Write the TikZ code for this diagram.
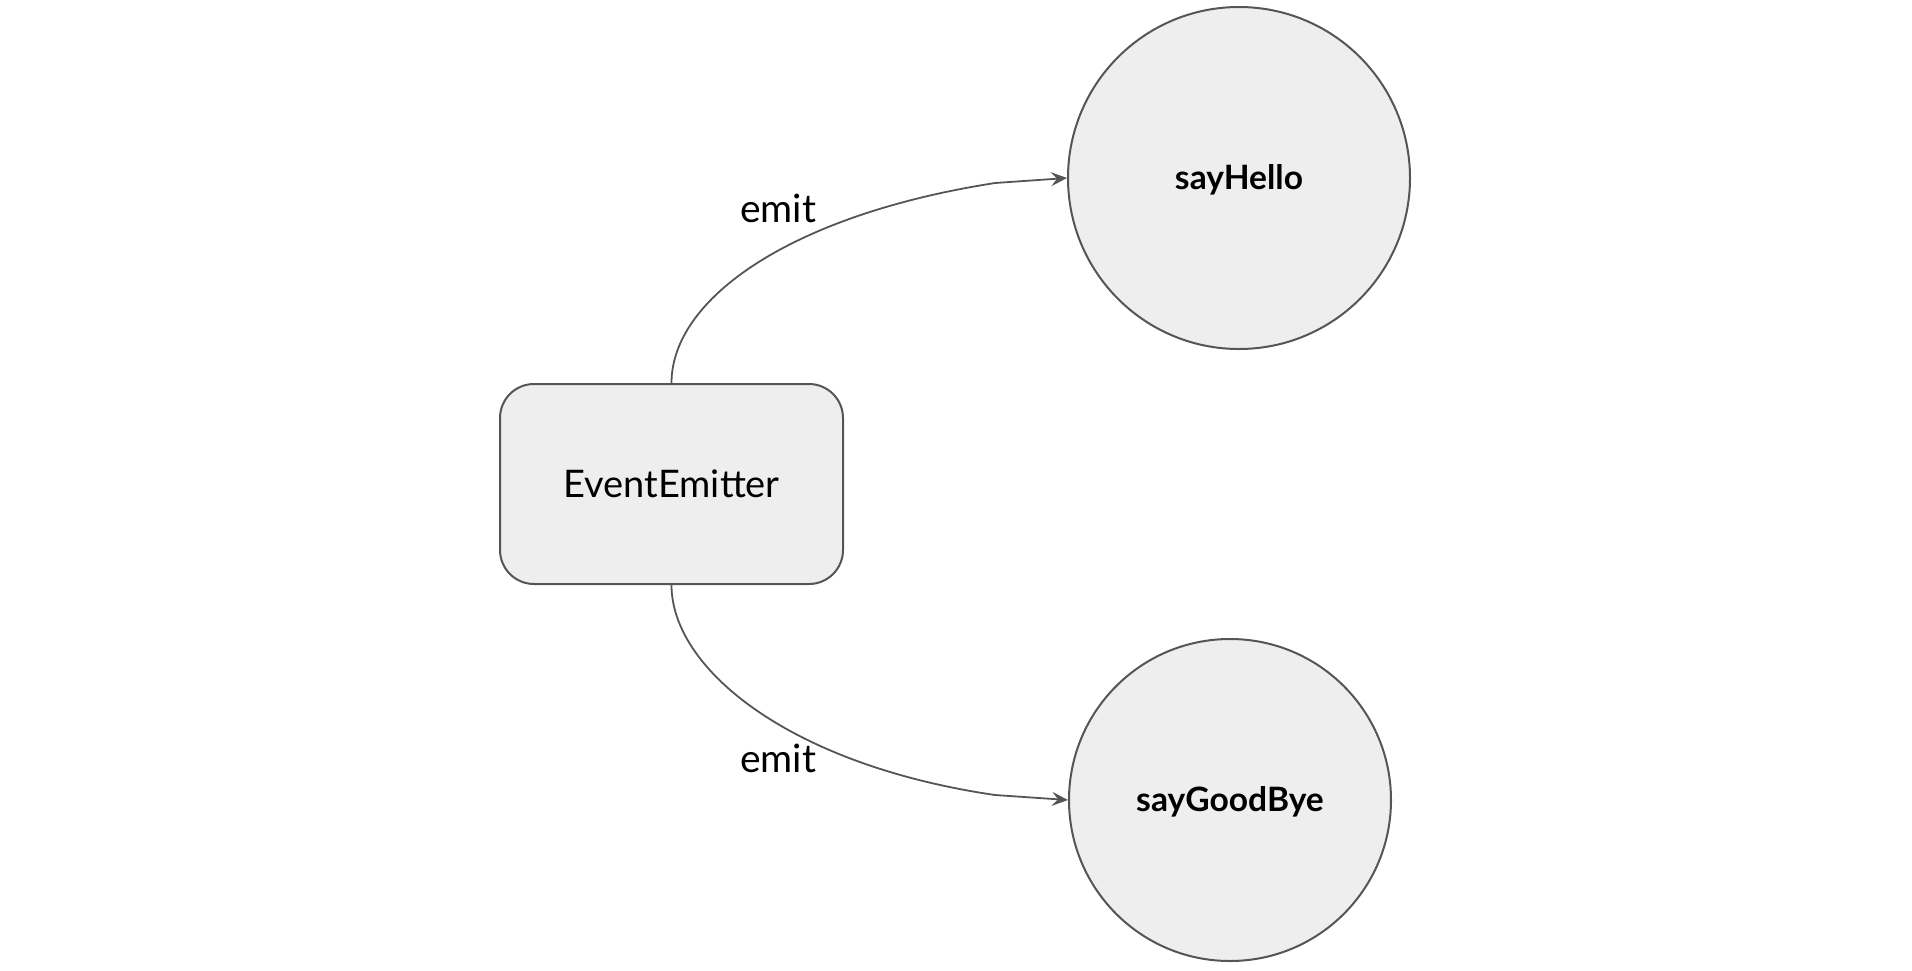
\documentclass[tikz,border=0pt]{standalone}
\usepackage{fontspec}
\setmainfont{Lato}
\usetikzlibrary{arrows.meta}
\usetikzlibrary{calc}

\definecolor{nodefill}{HTML}{EEEEEE}
\definecolor{edgegray}{HTML}{555555}

\begin{document}
\begin{tikzpicture}[x=0.5pt,y=-0.5pt,
    state/.style={draw=edgegray,fill=nodefill,line width=1pt},
    emitter/.style={state,rounded corners=17pt,minimum width=171.5pt,minimum height=100pt,
        font=\fontsize{19}{23}\selectfont},
    handler/.style={state,circle,text height=14pt,text depth=2.4pt,
        font=\bfseries\fontsize{16.8}{20}\selectfont},
    emitarrow/.style={draw=edgegray,line width=0.9pt,-{Stealth[length=8pt,width=7pt,inset=3pt]}},
    emitlabel/.style={font=\fontsize{19.5}{23}\selectfont}]
    \useasboundingbox (0,0) rectangle (1912,970);
    \node[emitter] (ee) at (671.5,484) {EventEmitter};
    \node[handler,minimum size=171pt] (hello) at (1239,178) {sayHello};
    \node[handler,minimum size=161pt] (bye) at (1230,800) {sayGoodBye};
    % curved emit edges, bending out of the top and bottom of the emitter
    \coordinate (hbend) at (995,183);
    \coordinate (bbend) at (995,795);
    \draw[emitarrow] (ee.north) .. controls ($(ee.north)+(0,-84)$) and (790,215) .. (hbend) -- (hello.west);
    \draw[emitarrow] (ee.south) .. controls ($(ee.south)+(0,84)$) and (790,765) .. (bbend) -- (bye.west);
    \node[emitlabel] (lbltop) at (778,208) {emit};
    \node[emitlabel] (lblbot) at (778,758) {emit};
\end{tikzpicture}
\end{document}
